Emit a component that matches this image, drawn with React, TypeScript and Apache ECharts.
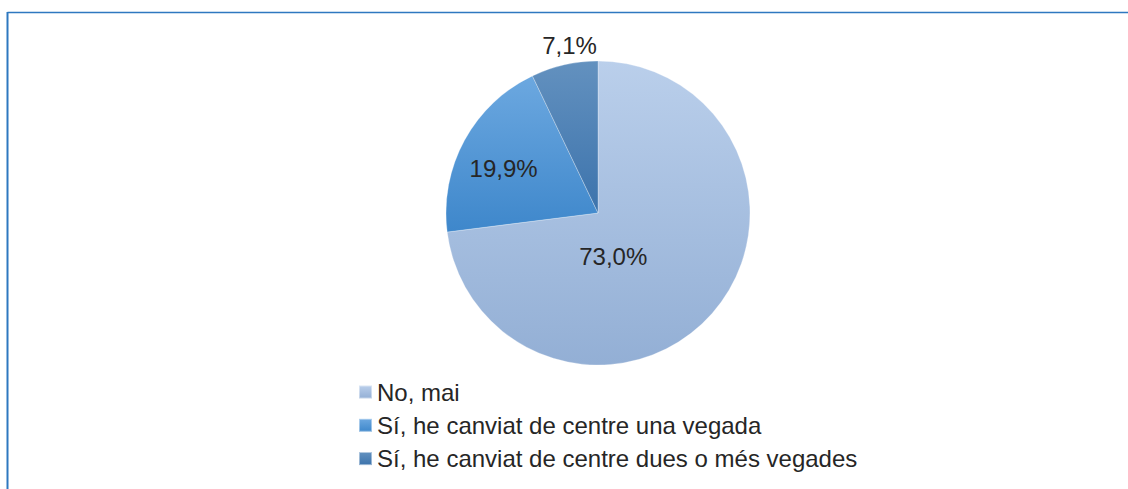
import React, { useEffect, useRef } from "react";
import * as echarts from "echarts";

const categories = [
  "No, mai",
  "Sí, he canviat de centre una vegada",
  "Sí, he canviat de centre dues o més vegades",
];
const values = [73.0, 19.9, 7.1];
const colorTops = ["#BACFEB", "#6CA8E0", "#6391BF"];
const colorBottoms = ["#93AFD5", "#3E87CB", "#3C73AC"];
// label nudges (px) relative to ECharts' default inside-label anchor
const labelNudges = [
  [-44, -9],
  [-25, -7],
  [-11, -90],
];

const fmt = (v: number) => v.toFixed(1).replace(".", ",") + "%";

export default function App() {
  const ref = useRef<HTMLDivElement>(null);
  useEffect(() => {
    if (!ref.current) return;
    const chart = echarts.init(ref.current, null, { renderer: "svg" });
    const font = "'Liberation Sans', Arial, sans-serif";
    chart.setOption({
      animation: false,
      backgroundColor: "#ffffff",
      graphic: [
        {
          type: "line",
          shape: { x1: 7.5, y1: 12.5, x2: 1128, y2: 12.5 },
          style: { stroke: "#2E78C0", lineWidth: 1.5 },
        },
        {
          type: "line",
          shape: { x1: 7.5, y1: 12, x2: 7.5, y2: 489 },
          style: { stroke: "#2E78C0", lineWidth: 2 },
        },
      ],
      legend: {
        orient: "vertical",
        left: 353,
        top: 375,
        itemWidth: 13,
        itemHeight: 13,
        itemGap: 9.3,
        icon: "rect",
        textStyle: {
          fontFamily: font,
          fontSize: 24,
          lineHeight: 24,
          color: "#262626",
        },
        data: categories,
      },
      series: [
        {
          type: "pie",
          center: [598, 213],
          radius: 152,
          startAngle: 90,
          clockwise: true,
          avoidLabelOverlap: false,
          itemStyle: { borderColor: "rgba(255,255,255,0.45)", borderWidth: 0.6 },
          label: {
            show: true,
            position: "inside",
            fontFamily: font,
            fontSize: 24,
            color: "#262626",
            formatter: (p: any) => fmt(p.value),
          },
          labelLine: { show: false },
          labelLayout: (p: any) => ({
            dx: labelNudges[p.dataIndex][0],
            dy: labelNudges[p.dataIndex][1],
          }),
          emphasis: { disabled: true },
          data: categories.map((name, i) => ({
            name,
            value: values[i],
            itemStyle: {
              color: new echarts.graphic.LinearGradient(0, 0, 0, 1, [
                { offset: 0, color: colorTops[i] },
                { offset: 1, color: colorBottoms[i] },
              ]),
            },
          })),
        },
      ],
    });
    return () => chart.dispose();
  }, []);
  return (
    <div
      ref={ref}
      style={{ position: "absolute", left: 0, top: 0, width: 1128, height: 489 }}
    />
  );
}
